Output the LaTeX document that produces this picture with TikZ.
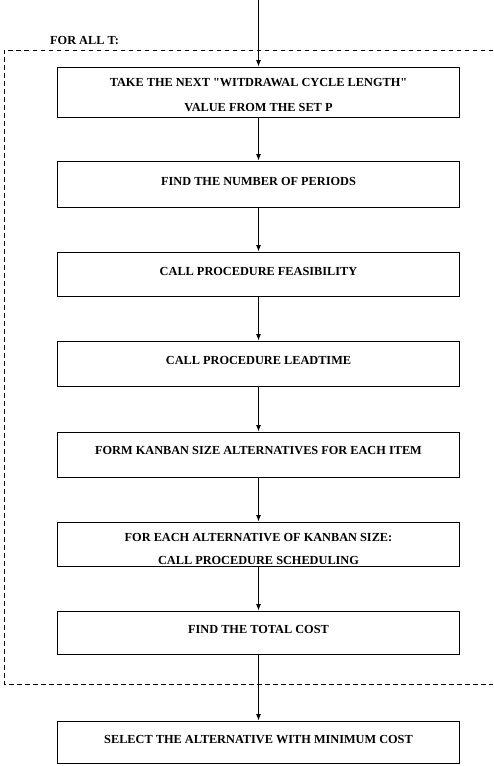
\documentclass[tikz,border=0pt]{standalone}
\usepackage{fontspec}
\setmainfont{Liberation Serif}
\usetikzlibrary{arrows.meta}
\begin{document}
\begin{tikzpicture}[x=1pt,y=-1pt,
  box/.style={draw, line width=0.9pt, minimum width=402pt, inner sep=0pt},
  txt/.style={font=\fontsize{12.3}{14}\selectfont\bfseries, align=center, inner sep=0pt},
  flow/.style={line width=1pt, -{Latex[length=6.5pt,width=5pt]}},
  frame/.style={line width=1pt, dash pattern=on 4.5pt off 3.5pt}]
\useasboundingbox (0,0) rectangle (493,766);
\coordinate (start) at (258.5,0);
\node[box, minimum height=50pt] (b1) at (258.5,92) {};
\node[txt] (t1a) at (258.5,83) {TAKE THE NEXT \textquotedbl WITDRAWAL CYCLE LENGTH\textquotedbl};
\node[txt] (t1b) at (258.5,108) {VALUE FROM THE SET P};
\node[box, minimum height=46pt] (b2) at (258.5,184) {};
\node[txt] (t2) at (258.5,181) {FIND THE NUMBER OF PERIODS};
\node[box, minimum height=44pt] (b3) at (258.5,274) {};
\node[txt] (t3) at (258.5,271) {CALL PROCEDURE FEASIBILITY};
\node[box, minimum height=45pt] (b4) at (258.5,363.5) {};
\node[txt] (t4) at (258.5,360) {CALL PROCEDURE LEADTIME};
\node[box, minimum height=45pt] (b5) at (258.5,454.5) {};
\node[txt] (t5) at (258.5,451) {FORM KANBAN SIZE ALTERNATIVES FOR EACH ITEM};
\node[box, minimum height=44pt] (b6) at (258.5,544) {};
\node[txt] (t6a) at (258.5,538) {FOR EACH ALTERNATIVE OF KANBAN SIZE:};
\node[txt] (t6b) at (258.5,560) {CALL PROCEDURE SCHEDULING};
\node[box, minimum height=43pt] (b7) at (258.5,632.5) {};
\node[txt] (t7) at (258.5,629) {FIND THE TOTAL COST};
\node[box, minimum height=42pt] (b8) at (258.5,742) {};
\node[txt] (t8) at (258.5,740) {SELECT THE ALTERNATIVE WITH MINIMUM COST};
\node[txt, anchor=west] (forall) at (50,41) {FOR ALL T:};
\draw[frame] (493,50) -- (4,50) -- (4,684) -- (493,684);
\draw[flow] (start) -- (b1.north);
\draw[flow] (b1.south) -- (b2.north);
\draw[flow] (b2.south) -- (b3.north);
\draw[flow] (b3.south) -- (b4.north);
\draw[flow] (b4.south) -- (b5.north);
\draw[flow] (b5.south) -- (b6.north);
\draw[flow] (b6.south) -- (b7.north);
\draw[flow] (b7.south) -- (b8.north);
\end{tikzpicture}
\end{document}
